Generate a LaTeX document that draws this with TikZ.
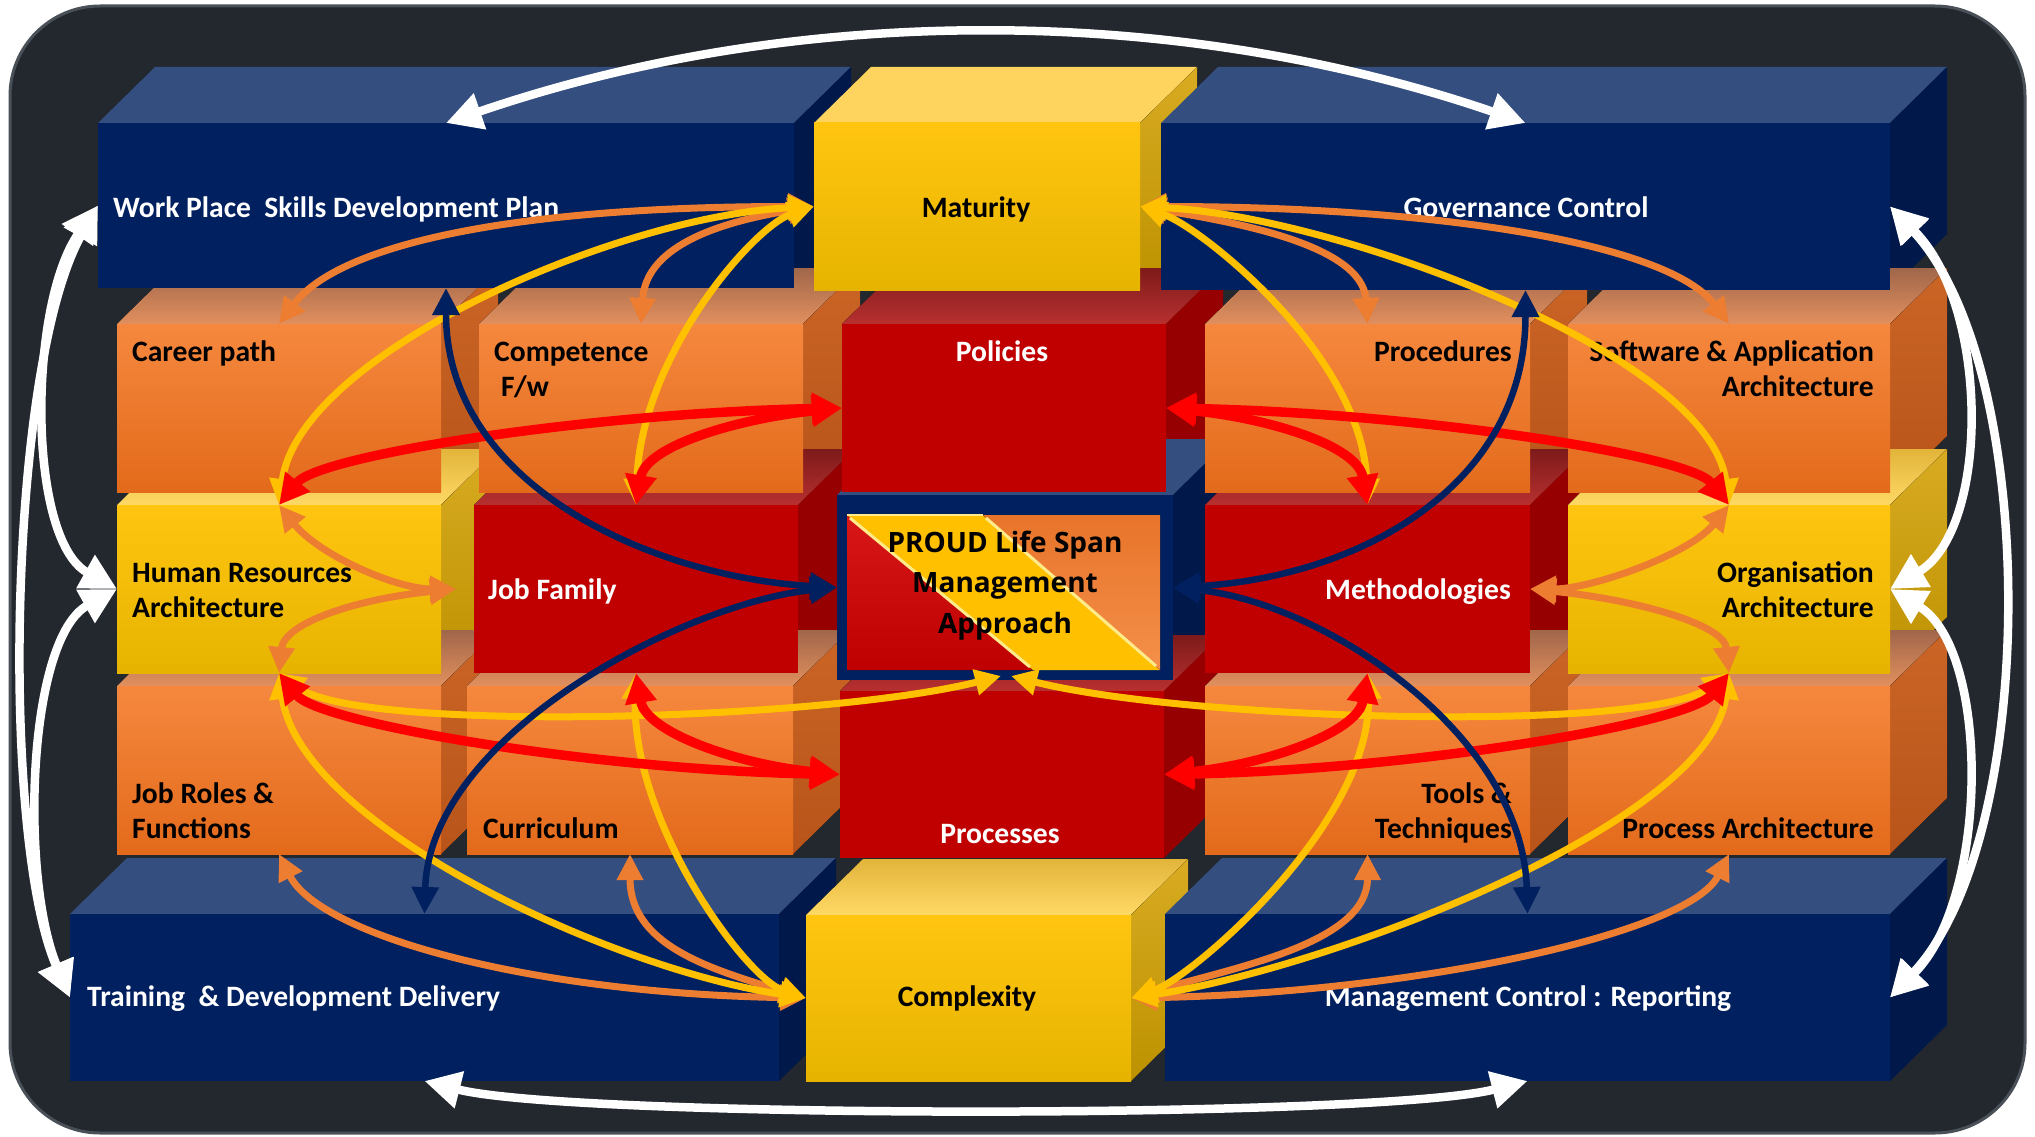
\documentclass[tikz,border=0pt]{standalone}
\usepackage{fontspec}
\setmainfont{Carlito}
\newfontfamily\proudfont{Open Sans}
\usetikzlibrary{arrows.meta}

\definecolor{cNavy}{HTML}{002060}
\definecolor{cNavyTop}{HTML}{344E7F}
\definecolor{cNavySide}{HTML}{00194A}
\definecolor{cYelA}{HTML}{FFC510}
\definecolor{cYelB}{HTML}{E6B400}
\definecolor{cYelTopA}{HTML}{E2B43A}
\definecolor{cYelTopB}{HTML}{FFD966}
\definecolor{cYelTopL}{HTML}{FFD45E}
\definecolor{cYelSideA}{HTML}{D8AB22}
\definecolor{cYelSideB}{HTML}{BD9200}
\definecolor{cOrA}{HTML}{F5883E}
\definecolor{cOrB}{HTML}{E36A1B}
\definecolor{cOrTopA}{HTML}{A0664A}
\definecolor{cOrTopB}{HTML}{E2905E}
\definecolor{cOrSideA}{HTML}{CB6526}
\definecolor{cOrSideB}{HTML}{B8541A}
\definecolor{cRed}{HTML}{C00000}
\definecolor{cRedTopA}{HTML}{7E1A1A}
\definecolor{cRedTopB}{HTML}{B83030}
\definecolor{cRedSide}{HTML}{970000}
\definecolor{cBg}{HTML}{23282F}
\definecolor{cBgEdge}{HTML}{4A5058}
\definecolor{aOr}{HTML}{ED7D31}
\definecolor{aYe}{HTML}{FFC000}
\definecolor{aRe}{HTML}{FF0000}
\definecolor{aNa}{HTML}{002060}
\definecolor{pRed}{HTML}{D81818}
\definecolor{pRed2}{HTML}{BE0000}
\definecolor{pYel}{HTML}{FFC000}
\definecolor{pOr}{HTML}{E8742A}
\definecolor{pOr2}{HTML}{F4904A}
\definecolor{pHi}{HTML}{FFEB8A}

\tikzset{
 nTop/.style={fill=cNavyTop},
 nSide/.style={fill=cNavySide},
 nFront/.style={fill=cNavy},
 yTop/.style={top color=cYelTopA, bottom color=cYelTopB},
 yTopL/.style={fill=cYelTopL},
 ySide/.style={top color=cYelSideA, bottom color=cYelSideB},
 yFront/.style={top color=cYelA, bottom color=cYelB},
 oTop/.style={top color=cOrTopA, bottom color=cOrTopB},
 oSide/.style={top color=cOrSideA, bottom color=cOrSideB},
 oFront/.style={top color=cOrA, bottom color=cOrB},
 rTop/.style={top color=cRedTopA, bottom color=cRedTopB},
 rSide/.style={fill=cRedSide},
 rFront/.style={fill=cRed},
 frontbox/.style={rectangle, inner sep=0pt, outer sep=0pt, draw=none},
 lbl/.style={inner sep=0pt, font=\fontsize{29.6}{35}\selectfont\bfseries},
 wt/.style={text=white},
 bt/.style={text=black},
 ptxt/.style={inner sep=0pt, text=black, font=\proudfont\fontsize{28}{34}\selectfont\bfseries},
 oarr/.style={draw=aOr, line width=7pt, >={Triangle[length=26pt,width=25pt]}, <->},
 yarr/.style={draw=aYe, line width=7pt, >={Triangle[length=26pt,width=25pt]}, <->},
 rarr/.style={draw=aRe, line width=9.5pt, >={Triangle[length=30pt,width=30pt]}, <->},
 narr/.style={draw=aNa, line width=6.5pt, >={Triangle[length=27pt,width=26pt]}, <->},
 warr/.style={draw=white, line width=8.5pt, >={Triangle[length=36pt,width=36pt]}, <->},
}

% top and side faces of a block: x1,y1,x2,y2,top style,side style
\newcommand{\cubeback}[6]{%
  \fill[#5] (#1,#2) -- ({#1+57},{#2-56}) -- ({#3+57},{#2-56}) -- (#3,#2) -- cycle;
  \fill[#6] (#3,#2) -- ({#3+57},{#2-56}) -- ({#3+57},{#4-56}) -- (#3,#4) -- cycle;
}
% front face as a named node: name,x1,y1,x2,y2,style
\newcommand{\cubefront}[6]{%
  \node[frontbox,#6,minimum width={#4-#2},minimum height={#5-#3}] (#1) at ({(#2+#4)/2},{(#3+#5)/2}) {};
}

\begin{document}
\begin{tikzpicture}[x=1pt,y=-1pt]
\useasboundingbox (0,0) rectangle (2035,1137);
\fill[white] (0,0) rectangle (2035,1137);
\fill[cBg, draw=cBgEdge, line width=3pt, rounded corners=90pt] (10,6) rectangle (2025,1133);

% ---- back faces (row by row) ----
\cubeback{98}{123}{794}{288}{nTop}{nSide}
\cubeback{814}{123}{1140}{290}{yTopL}{ySide}
\cubeback{1161}{123}{1890}{290}{nTop}{nSide}

\cubeback{117}{324}{441}{492}{oTop}{oSide}
\cubeback{479}{324}{803}{492}{oTop}{oSide}
\cubeback{842}{324}{1166}{492}{rTop}{rSide}
\cubeback{1205}{324}{1530}{492}{oTop}{oSide}
\cubeback{1568}{324}{1890}{492}{oTop}{oSide}

\cubeback{117}{505}{441}{673}{yTop}{ySide}
\cubeback{474}{505}{798}{673}{rTop}{rSide}
\cubeback{837}{495}{1173}{680}{nTop}{nSide}
\cubeback{1205}{505}{1530}{673}{rTop}{rSide}
\cubeback{1568}{505}{1890}{673}{yTop}{ySide}

\cubeback{117}{686}{441}{854}{oTop}{oSide}
\cubeback{467}{686}{793}{854}{oTop}{oSide}
\cubeback{840}{691}{1164}{858}{rTop}{rSide}
\cubeback{1205}{686}{1530}{854}{oTop}{oSide}
\cubeback{1568}{686}{1890}{854}{oTop}{oSide}

\cubeback{70}{914}{779}{1081}{nTop}{nSide}
\cubeback{806}{915}{1131}{1081}{yTop}{ySide}
\cubeback{1165}{914}{1890}{1081}{nTop}{nSide}

% ---- front faces (named nodes) ----
\cubefront{wp}{98}{123}{794}{288}{nFront}
\cubefront{mat}{814}{123}{1140}{290}{yFront}
\cubefront{gov}{1161}{123}{1890}{290}{nFront}

\cubefront{career}{117}{324}{441}{492}{oFront}
\cubefront{comp}{479}{324}{803}{492}{oFront}
\cubefront{pol}{842}{324}{1166}{492}{rFront}
\cubefront{procd}{1205}{324}{1530}{492}{oFront}
\cubefront{soft}{1568}{324}{1890}{492}{oFront}

\cubefront{hr}{117}{505}{441}{673}{yFront}
\cubefront{jobfam}{474}{505}{798}{673}{rFront}
\cubefront{proud}{837}{495}{1173}{680}{nFront}
\cubefront{meth}{1205}{505}{1530}{673}{rFront}
\cubefront{org}{1568}{505}{1890}{673}{yFront}

\cubefront{roles}{117}{686}{441}{854}{oFront}
\cubefront{curr}{467}{686}{793}{854}{oFront}
\cubefront{procs}{840}{691}{1164}{858}{rFront}
\cubefront{tools}{1205}{686}{1530}{854}{oFront}
\cubefront{parch}{1568}{686}{1890}{854}{oFront}

\cubefront{train}{70}{914}{779}{1081}{nFront}
\cubefront{cplx}{806}{915}{1131}{1081}{yFront}
\cubefront{mgmt}{1165}{914}{1890}{1081}{nFront}

% ---- centre panel ----
\fill[top color=pRed, bottom color=pRed2] (847,515) -- (1033,670) -- (847,670) -- cycle;
\fill[pYel] (847,515) -- (983,515) -- (1160,670) -- (1033,670) -- cycle;
\fill[top color=pOr, bottom color=pOr2] (983,515) -- (1160,515) -- (1160,670) -- cycle;
\draw[pHi, line width=3pt] (850,518) -- (1030,667);
\draw[pHi, line width=3pt] (986,518) -- (1156,666);
\draw[pHi, line width=2pt] (847,515) -- (983,515);

\node[ptxt, anchor=base] (pr1) at (1005,552) {PROUD Life Span};
\node[ptxt, anchor=base] (pr2) at (1005,592) {Management};
\node[ptxt, anchor=base] (pr3) at (1005,633) {Approach};

% ---- labels ----
\node[lbl,wt,anchor=base west] (wpT) at (113,217) {Work Place\ \ Skills Development Plan};
\node[lbl,bt,anchor=base] (matT) at (976,217) {Maturity};
\node[lbl,wt,anchor=base] (govT) at (1526,217) {Governance Control};
\node[lbl,bt,anchor=base west] (careerT) at (132,361) {Career path};
\node[lbl,bt,anchor=base west] (compT1) at (494,361) {Competence};
\node[lbl,bt,anchor=base west] (compT2) at (501,396) {F/w};
\node[lbl,wt,anchor=base] (polT) at (1002,361) {Policies};
\node[lbl,bt,anchor=base east] (procdT) at (1512,361) {Procedures};
\node[lbl,bt,anchor=base east] (softT1) at (1874,361) {Software \& Application};
\node[lbl,bt,anchor=base east] (softT2) at (1874,396) {Architecture};
\node[lbl,bt,anchor=base west] (hrT1) at (132,582) {Human Resources};
\node[lbl,bt,anchor=base west] (hrT2) at (132,617) {Architecture};
\node[lbl,wt,anchor=base west] (jobfamT) at (488,599) {Job Family};
\node[lbl,wt,anchor=base] (methT) at (1418,599) {Methodologies};
\node[lbl,bt,anchor=base east] (orgT1) at (1874,582) {Organisation};
\node[lbl,bt,anchor=base east] (orgT2) at (1874,617) {Architecture};
\node[lbl,bt,anchor=base west] (rolesT1) at (132,803) {Job Roles \&};
\node[lbl,bt,anchor=base west] (rolesT2) at (132,838) {Functions};
\node[lbl,bt,anchor=base west] (currT) at (483,838) {Curriculum};
\node[lbl,wt,anchor=base] (procsT) at (1000,843) {Processes};
\node[lbl,bt,anchor=base east] (toolsT1) at (1512,803) {Tools \&};
\node[lbl,bt,anchor=base east] (toolsT2) at (1512,838) {Techniques};
\node[lbl,bt,anchor=base east] (parchT) at (1874,838) {Process Architecture};
\node[lbl,wt,anchor=base west] (trainT) at (87,1006) {Training\ \ \& Development Delivery};
\node[lbl,bt,anchor=base] (cplxT) at (967,1006) {Complexity};
\node[lbl,wt,anchor=base] (mgmtT) at (1528,1006) {Management Control : Reporting};

\coordinate (pbL) at (1001,676);
\coordinate (pbR) at (1011,676);

% ---- orange ----
\draw[oarr] (mat.west) .. controls +(-300,0) and +(60,-80) .. (career.north);
\draw[oarr] (mat.west) .. controls +(-90,15) and +(5,-80) .. (comp.north);
\draw[oarr] (mat.east) .. controls +(90,15) and +(-5,-80) .. (procd.north);
\draw[oarr] (mat.east) .. controls +(300,0) and +(-60,-80) .. (soft.north);
\draw[oarr] (hr.north) .. controls +(40,50) and +(-60,0) .. ([xshift=-18pt]jobfam.west);
\draw[oarr] ([xshift=-18pt]jobfam.west) .. controls +(-100,10) and +(5,-50) .. (hr.south);
\draw[oarr] (org.north) .. controls +(-40,50) and +(60,0) .. (meth.east);
\draw[oarr] (meth.east) .. controls +(100,10) and +(-5,-50) .. (org.south);
\draw[oarr] (cplx.west) .. controls +(-280,-5) and +(40,80) .. (roles.south);
\draw[oarr] (cplx.west) .. controls +(-100,-30) and +(0,90) .. (curr.south);
\draw[oarr] (cplx.east) .. controls +(100,-30) and +(0,90) .. (tools.south);
\draw[oarr] (cplx.east) .. controls +(280,-5) and +(-40,80) .. (parch.south);

% ---- yellow ----
\draw[yarr] (mat.west) .. controls +(-200,10) and +(20,-150) .. (hr.north);
\draw[yarr] (mat.west) .. controls +(-60,20) and +(5,-150) .. (jobfam.north);
\draw[yarr] (mat.east) .. controls +(60,20) and +(-5,-150) .. (meth.north);
\draw[yarr] (mat.east) .. controls +(200,10) and +(-20,-150) .. (org.north);
\draw[yarr] (cplx.west) .. controls +(-200,-30) and +(20,150) .. (hr.south);
\draw[yarr] (cplx.west) .. controls +(-60,-20) and +(-5,150) .. (jobfam.south);
\draw[yarr] (cplx.east) .. controls +(60,-20) and +(5,150) .. (meth.south);
\draw[yarr] (cplx.east) .. controls +(200,-30) and +(-20,150) .. (org.south);
\draw[yarr] (hr.south) .. controls +(80,60) and +(-180,45) .. (pbL);
\draw[yarr] (org.south) .. controls +(-80,60) and +(180,45) .. (pbR);

% ---- red ----
\draw[rarr] (pol.west) .. controls +(-250,5) and +(40,-50) .. (hr.north);
\draw[rarr] (pol.west) .. controls +(-100,10) and +(10,-60) .. (jobfam.north);
\draw[rarr] (pol.east) .. controls +(100,10) and +(-10,-60) .. (meth.north);
\draw[rarr] (pol.east) .. controls +(250,5) and +(-40,-50) .. (org.north);
\draw[rarr] (procs.west) .. controls +(-250,-5) and +(40,50) .. (hr.south);
\draw[rarr] (procs.west) .. controls +(-100,-10) and +(10,60) .. (jobfam.south);
\draw[rarr] (procs.east) .. controls +(100,-10) and +(-10,60) .. (meth.south);
\draw[rarr] (procs.east) .. controls +(250,-5) and +(-40,50) .. (org.south);

% ---- navy ----
\draw[narr] (wp.south) .. controls +(0,200) and +(-180,-10) .. (proud.west);
\draw[narr] (proud.west) .. controls +(-150,15) and +(5,-180) .. (train.north);
\draw[narr] (gov.south) .. controls +(0,200) and +(180,-10) .. (proud.east);
\draw[narr] (proud.east) .. controls +(150,15) and +(-5,-180) .. (mgmt.north);

% ---- white ----
\draw[warr] (wp.north) .. controls +(350,-120) and +(-350,-120) .. (gov.north);
\draw[warr] (train.south) .. controls +(150,38) and +(-150,38) .. (mgmt.south);
\draw[warr] (wp.west) .. controls +(-90,160) and +(-70,-160) .. (train.west);
\draw[warr] (wp.west) .. controls +(-70,100) and +(-90,-50) .. (hr.west);
\draw[warr] (hr.west) .. controls +(-90,50) and +(-50,-120) .. (train.west);
\draw[warr] (gov.east) .. controls +(150,160) and +(150,-160) .. (mgmt.east);
\draw[warr] (gov.east) .. controls +(100,100) and +(100,-60) .. (org.east);
\draw[warr] (org.east) .. controls +(100,60) and +(100,-100) .. (mgmt.east);
\end{tikzpicture}
\end{document}
